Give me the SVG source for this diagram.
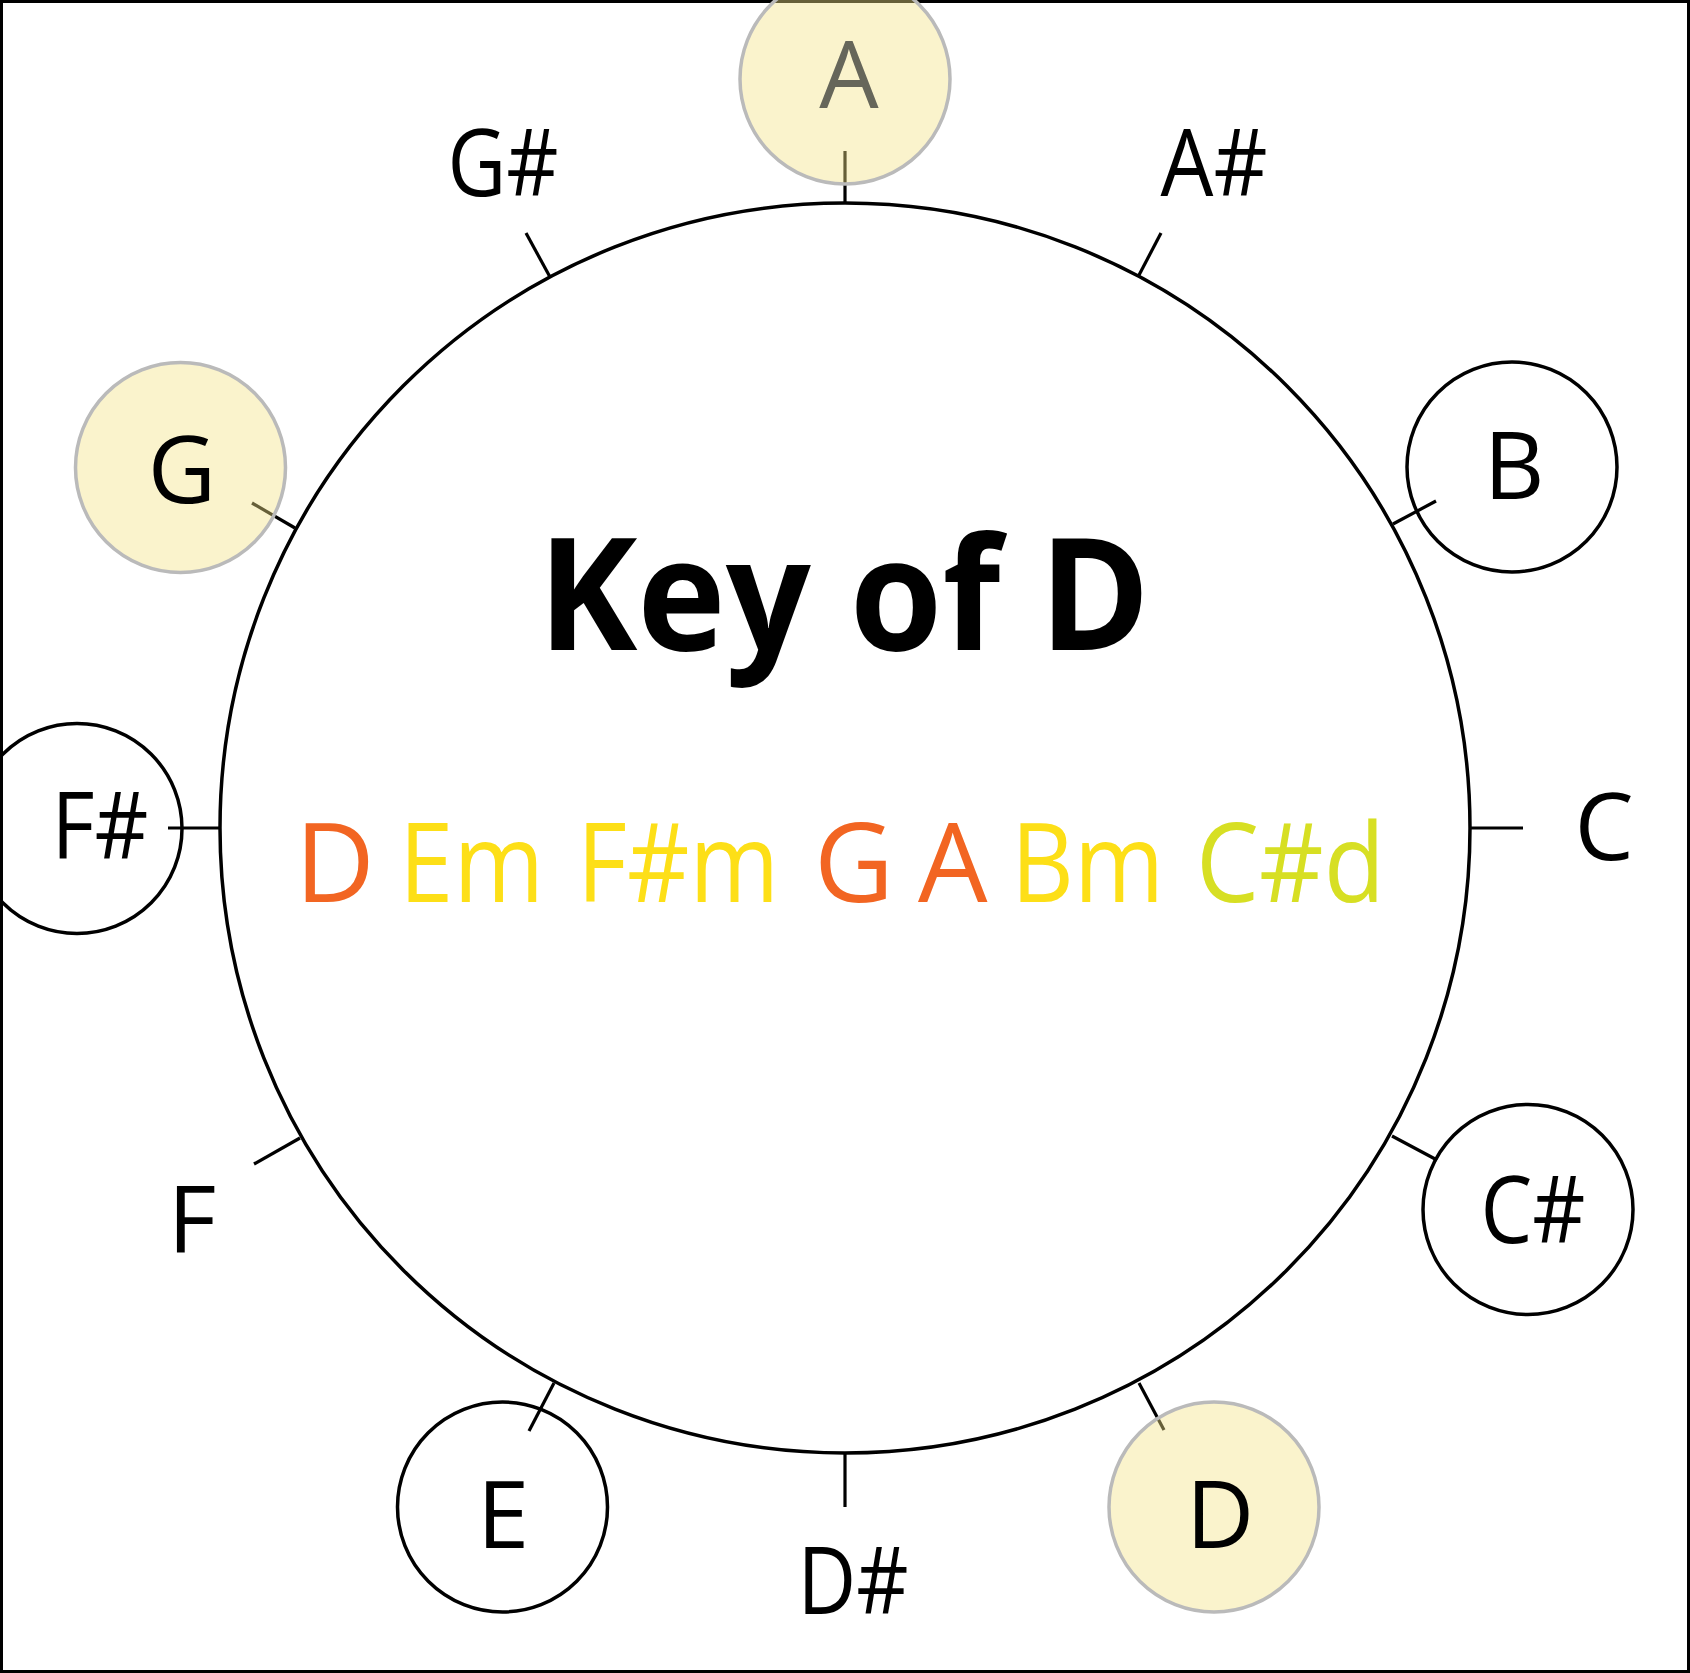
<svg xmlns="http://www.w3.org/2000/svg" width="1690" height="1673" viewBox="0 0 1690 1673">
<style>
.lbl{font-family:"Open Sans","Liberation Sans",sans-serif;font-size:94px;fill:#000;text-anchor:middle}
.chord{font-family:"Open Sans","Liberation Sans",sans-serif;font-size:110px}
.title{font-family:"Open Sans","Liberation Sans",sans-serif;font-size:156px;font-weight:bold;fill:#000}
.ring{fill:none;stroke:#000;stroke-width:3.5}
.hl{fill:#f2e285;fill-opacity:0.42;stroke:#bababa;stroke-width:3.5}
.tick{stroke:#000;stroke-width:3.2}
</style>
<rect x="0" y="0" width="1690" height="1673" fill="#fff"/>
<rect x="1.5" y="1.5" width="1687" height="1670" fill="none" stroke="#000" stroke-width="3"/>
<g id="main-circle"><circle cx="845" cy="828" r="625" class="ring"/></g>
<g id="title"><text class="title" x="538" y="650" textLength="612" lengthAdjust="spacingAndGlyphs">Key of D</text></g>
<g id="chords">
<text class="chord" x="295" y="902" fill="#f26522">D</text>
<text class="chord" x="399" y="902" fill="#fddf17" textLength="145" lengthAdjust="spacingAndGlyphs">Em</text>
<text class="chord" x="577" y="902" fill="#fddf17" textLength="202" lengthAdjust="spacingAndGlyphs">F#m</text>
<text class="chord" x="814" y="902" fill="#f26522">G</text>
<text class="chord" x="918" y="902" fill="#f26522">A</text>
<text class="chord" x="1011" y="902" fill="#fddf17" textLength="153" lengthAdjust="spacingAndGlyphs">Bm</text>
<text class="chord" x="1196" y="902" fill="#d7df23" textLength="189" lengthAdjust="spacingAndGlyphs">C#d</text>
</g>
<g id="node-B"><circle cx="1512" cy="467" r="105" class="ring"/><text class="lbl" x="1514" y="499">B</text></g>
<g id="node-Csharp"><circle cx="1528" cy="1209.5" r="105" class="ring"/><text class="lbl" x="1533" y="1243" textLength="105" lengthAdjust="spacingAndGlyphs">C#</text></g>
<g id="node-E"><circle cx="502.5" cy="1507" r="105" class="ring"/><text class="lbl" x="503" y="1548">E</text></g>
<g id="node-Fsharp"><circle cx="77" cy="828.5" r="105" class="ring"/><text class="lbl" x="100" y="859" textLength="97" lengthAdjust="spacingAndGlyphs">F#</text></g>
<g id="node-Gsharp"><text class="lbl" x="503" y="196" textLength="111" lengthAdjust="spacingAndGlyphs">G#</text></g>
<g id="node-Asharp"><text class="lbl" x="1214" y="196" textLength="107" lengthAdjust="spacingAndGlyphs">A#</text></g>
<g id="node-C"><text class="lbl" x="1604" y="860">C</text></g>
<g id="node-F"><text class="lbl" x="192" y="1253">F</text></g>
<g id="node-Dsharp"><text class="lbl" x="853" y="1614" textLength="111" lengthAdjust="spacingAndGlyphs">D#</text></g>
<g id="connectors">
<line class="tick" x1="845" y1="203" x2="845" y2="151"/>
<line class="tick" x1="1138" y1="277" x2="1161" y2="233"/>
<line class="tick" x1="1393" y1="524" x2="1436" y2="501"/>
<line class="tick" x1="1470" y1="828" x2="1523" y2="828"/>
<line class="tick" x1="1392" y1="1136" x2="1437" y2="1160"/>
<line class="tick" x1="1139" y1="1383" x2="1164" y2="1430"/>
<line class="tick" x1="845" y1="1453" x2="845" y2="1507"/>
<line class="tick" x1="554" y1="1383" x2="529" y2="1431"/>
<line class="tick" x1="300" y1="1138" x2="254" y2="1164"/>
<line class="tick" x1="220" y1="828" x2="168" y2="828"/>
<line class="tick" x1="295" y1="528" x2="252" y2="503"/>
<line class="tick" x1="550" y1="277" x2="526" y2="233"/>
</g>
<g id="node-A"><circle cx="845" cy="79" r="105" class="hl"/><text class="lbl" x="849" y="108" style="fill:#66665a">A</text></g>
<g id="node-G"><circle cx="180.5" cy="467.5" r="105" class="hl"/><text class="lbl" x="182" y="503">G</text></g>
<g id="node-D"><circle cx="1214" cy="1507" r="105" class="hl"/><text class="lbl" x="1220" y="1548">D</text></g>
</svg>
